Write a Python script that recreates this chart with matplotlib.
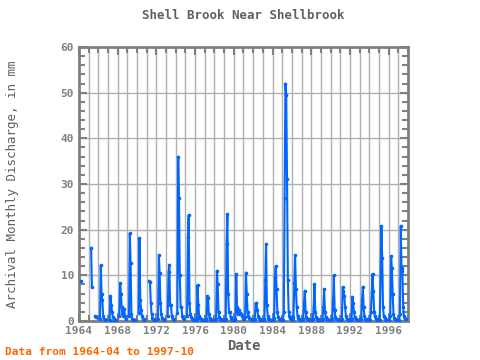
import numpy as np
import matplotlib
matplotlib.use("Agg")
import matplotlib.pyplot as plt
from matplotlib.ticker import MultipleLocator

nan = np.nan

# monthly discharge (mm), Jan..Dec, one row per year from 1964
years = list(range(1964, 1998))
monthly = [
    [nan, nan, nan, 8.7, nan, nan, nan, nan, nan, nan, nan, nan],    # 1964
    [nan, nan, nan, 16.0, 7.5, nan, nan, nan, 1.0, 0.9, nan, nan],   # 1965
    [nan, nan, 0.5, 12.2, 6.0, 4.5, 1.0, 0.4, 0.3, 0.3, 0.2, nan],   # 1966
    [nan, nan, 0.3, 5.5, 3.5, 2.0, 0.8, 0.4, 0.3, 0.3, 0.2, nan],    # 1967
    [nan, nan, 1.2, 8.3, 5.9, 3.0, 1.2, 2.6, 2.6, 1.0, 0.4, nan],    # 1968
    [nan, nan, 1.0, 19.2, 12.7, 1.5, 0.5, 0.3, 0.3, 0.3, 0.2, nan],  # 1969
    [nan, nan, 1.7, 18.2, 4.6, 2.5, 1.0, 0.5, 0.4, 0.3, nan, nan],   # 1970
    [nan, nan, nan, 8.7, 8.5, 4.0, 1.5, 0.6, 0.4, 0.3, 0.2, nan],    # 1971
    [nan, nan, 0.5, 14.4, 10.5, 4.0, 1.5, 0.6, 0.4, 0.3, 0.2, nan],  # 1972
    [nan, nan, 1.0, 10.8, 12.3, 3.5, 3.5, 1.2, 0.5, 0.4, 0.3, nan],  # 1973
    [nan, nan, 1.7, 36.0, 27.0, 10.0, 3.0, 3.0, 1.0, 0.6, 0.4, nan], # 1974
    [nan, nan, 1.0, 18.5, 23.2, 4.0, 1.5, 0.8, 0.5, 0.4, 0.3, 0.2],  # 1975
    [0.2, 0.2, 0.4, 7.9, 3.5, 1.2, 0.6, 0.4, 0.3, 0.3, 0.2, 0.2],    # 1976
    [0.2, 0.2, 0.4, 5.5, 5.0, 1.5, 0.6, 0.4, 0.3, 0.3, 0.2, 0.2],    # 1977
    [0.2, 0.2, 0.5, 11.0, 8.0, 2.0, 0.8, 0.5, 0.4, 0.3, 0.2, 0.2],   # 1978
    [0.2, 0.2, 0.5, 16.9, 23.4, 6.0, 2.0, 2.0, 0.8, 0.5, 0.3, 0.2],  # 1979
    [0.2, 0.2, 0.5, 10.3, 3.0, 1.5, 2.0, 2.5, 1.8, 1.5, 1.2, 0.8],   # 1980
    [0.5, 0.4, 0.8, 10.6, 6.0, 2.0, 1.0, 0.6, 0.5, 0.4, 0.3, 0.2],   # 1981
    [0.2, 0.2, 0.5, 3.9, 3.9, 2.5, 1.2, 0.6, 0.4, 0.3, 0.2, 0.2],    # 1982
    [0.2, 0.2, 0.5, 9.0, 16.9, 3.5, 1.2, 0.6, 0.4, 0.3, 0.2, 0.2],   # 1983
    [0.2, 0.2, 0.6, 9.7, 12.0, 7.0, 2.0, 0.8, 0.5, 0.4, 0.3, 0.2],   # 1984
    [0.2, 0.3, 2.0, 27.0, 52.0, 49.5, 31.0, 9.0, 2.0, 1.0, 0.6, 0.4],# 1985
    [0.3, 0.3, 0.8, 8.3, 14.4, 7.0, 3.0, 1.0, 0.6, 0.4, 0.3, 0.2],   # 1986
    [0.2, 0.2, 0.5, 4.0, 6.6, 2.0, 0.8, 0.5, 0.4, 0.3, 0.2, 0.2],    # 1987
    [0.2, 0.2, 0.5, 3.0, 8.1, 2.0, 0.8, 0.5, 0.4, 0.3, 0.2, 0.2],    # 1988
    [0.2, 0.2, 0.5, 3.0, 7.0, 2.0, 0.8, 0.5, 0.4, 0.3, 0.2, 0.2],    # 1989
    [0.2, 0.2, 0.5, 4.0, 10.0, 2.5, 0.8, 0.5, 0.4, 0.3, 0.2, 0.2],   # 1990
    [0.2, 0.2, 0.5, 7.4, 6.5, 5.5, 3.0, 1.0, 0.5, 0.3, 0.2, 0.2],    # 1991
    [0.2, 0.2, 0.5, 5.2, 4.0, 2.0, 0.8, 0.5, 0.4, 0.3, 0.2, 0.2],    # 1992
    [0.2, 0.2, 0.5, 4.5, 7.5, 3.0, 1.0, 0.5, 0.4, 0.3, 0.2, 0.2],    # 1993
    [0.2, 0.2, 2.0, 6.4, 10.3, 6.5, 2.0, 1.0, 0.5, 0.4, 0.3, 0.2],   # 1994
    [0.2, 0.3, 9.7, 20.8, 13.8, 3.0, 1.0, 0.6, 0.4, 0.3, 0.3, 0.2],  # 1995
    [0.2, 0.3, 1.0, 14.2, 11.5, 6.0, 1.5, 0.6, 0.4, 0.3, 0.2, 0.2],  # 1996
    [0.2, 0.3, 1.5, 20.8, 11.0, 11.5, 3.0, 1.0, 0.5, 0.5, nan, nan], # 1997
]

t = []
q = []
for y, row in zip(years, monthly):
    for m, v in enumerate(row):
        t.append(y + m / 12.0)
        q.append(v)
t = np.array(t)
q = np.array(q)

gray = "#808080"
mono = "DejaVu Sans Mono"

fig = plt.figure(figsize=(4.8, 3.6), dpi=100)
ax = fig.add_axes([79 / 480, 39 / 360, 329 / 480, 274 / 360])

ax.plot(t, q, color="#0066ff", lw=1.5, marker="o", ms=1.6, zorder=3)

ax.set_xlim(1964, 1998)
ax.set_ylim(0, 60)
ax.xaxis.set_major_locator(MultipleLocator(4))
ax.xaxis.set_minor_locator(MultipleLocator(1))
ax.yaxis.set_major_locator(MultipleLocator(10))
ax.yaxis.set_minor_locator(MultipleLocator(2))
ax.grid(True, which="major", axis="y", color="#b0b0b0", lw=1)
ax.grid(True, which="both", axis="x", color="#b0b0b0", lw=1)
ax.set_axisbelow(True)

ax.tick_params(which="both", direction="in", top=True, right=True,
               colors=gray, labelcolor=gray, labelsize=8)
ax.tick_params(which="major", length=6, width=1.5)
ax.tick_params(which="minor", length=4, width=1.5)
for s in ax.spines.values():
    s.set_color(gray)
    s.set_linewidth(2)
for lab in ax.get_xticklabels() + ax.get_yticklabels():
    lab.set_family(mono)
    lab.set_fontweight("bold")

ax.set_title("Shell Brook Near Shellbrook", family=mono, fontsize=9,
             color="#606060", pad=20, fontweight="bold")
ax.set_xlabel("Date", family=mono, fontsize=10, color="#606060",
              fontweight="bold", labelpad=2)
ax.set_ylabel("Archival Monthly Discharge, in mm", family=mono, fontsize=9,
              color="#606060", labelpad=30)
fig.text(5 / 480, 1 - 352 / 360, "Data from 1964-04 to 1997-10", family=mono,
         fontsize=8, color="#ff6600", fontweight="bold", va="center")

fig.savefig("out.png", dpi=100)
